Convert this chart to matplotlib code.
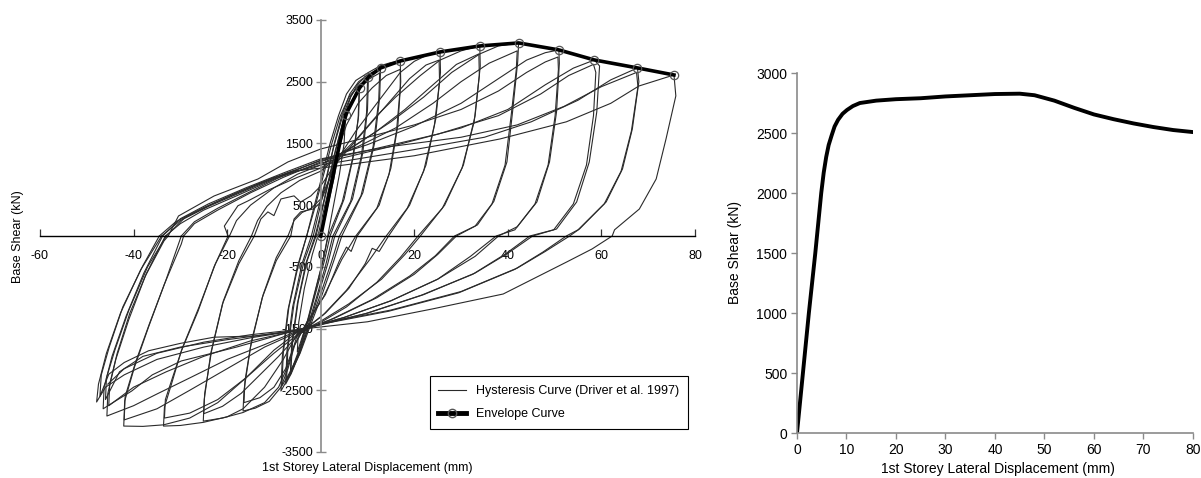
import numpy as np
import matplotlib.pyplot as plt
from matplotlib.lines import Line2D

plt.rcParams['font.family'] = ['Liberation Sans', 'DejaVu Sans']
plt.rcParams['axes.unicode_minus'] = False

# cyclic test record, one list of (displacement mm, shear kN) per cycle
loop_a = [(0, 0), (1.1, 350), (2.8, 924), (4.3, 1572), (5.3, 1961),
          (5.0, 1500), (4.0, 1000), (2.5, 400), (1.5, 0),
          (0.5, -400), (-1.0, -850), (-2.5, -1300), (-4.0, -1650), (-5.0, -1880),
          (-4.7, -1400), (-3.5, -850), (-1.8, -300), (-0.6, 0)]
loop_b = [(-0.6, 0), (0.6, 400), (2.0, 850), (3.5, 1350), (5.0, 1800), (6.5, 2150), (7.5, 2320), (8.3, 2399),
          (8.1, 1950), (7.0, 1300), (5.0, 600), (2.0, 0),
          (0.8, -400), (-1.0, -900), (-2.8, -1400), (-4.5, -1850), (-5.8, -2120), (-6.5, -2250),
          (-6.2, -1750), (-5.0, -1100), (-3.2, -450), (-1.2, 0)]
loop_b2 = [(-1.2, 0), (0.2, 420), (1.6, 880), (3.1, 1380), (4.7, 1820), (6.3, 2150), (7.4, 2290), (8.2, 2350),
           (8.0, 1900), (6.8, 1250), (4.6, 550), (1.6, 0),
           (0.4, -420), (-1.3, -920), (-3.0, -1420), (-4.7, -1860), (-5.9, -2100), (-6.4, -2200),
           (-6.0, -1700), (-4.8, -1050), (-2.9, -400), (-1.0, 0)]
loop_c = [(-1.0, 0), (0.4, 450), (1.9, 950), (3.4, 1450), (4.9, 1900), (6.4, 2250), (7.8, 2450), (9.0, 2540), (10.2, 2577),
          (10.0, 2050), (9.0, 1350), (6.8, 600), (3.0, 0),
          (1.5, -450), (-0.5, -950), (-2.5, -1450), (-4.5, -1900), (-6.3, -2230), (-7.5, -2400),
          (-7.2, -1850), (-6.0, -1150), (-4.0, -450), (-2.0, 0)]
loop_c2 = [(-2.0, 0), (-0.5, 450), (1.2, 950), (2.9, 1480), (4.6, 1920), (6.3, 2250), (7.9, 2420), (10.0, 2500),
           (9.8, 2000), (8.7, 1300), (6.4, 560), (2.6, 0),
           (1.1, -460), (-0.8, -970), (-2.8, -1470), (-4.8, -1920), (-6.4, -2200), (-7.3, -2330),
           (-7.0, -1800), (-5.7, -1100), (-3.6, -420), (-1.6, 0)]
loop_d = [(-1.6, 0), (-0.2, 450), (1.3, 950), (2.9, 1500), (4.5, 1950), (6.2, 2300), (8.1, 2500), (10.2, 2620), (12.8, 2723),
          (12.6, 2250), (11.5, 1500), (9.0, 700), (4.5, 0),
          (2.8, -400), (0.3, -950), (-2.2, -1450), (-4.4, -1900), (-6.8, -2280), (-8.5, -2512),
          (-8.2, -1950), (-7.0, -1200), (-5.0, -500), (-3.0, 0)]
loop_d2 = [(-3.0, 0), (-1.4, 420), (0.4, 930), (2.3, 1480), (4.1, 1930), (6.0, 2250), (8.4, 2460), (12.6, 2640),
           (12.4, 2200), (11.2, 1450), (8.6, 650), (4.0, 0),
           (2.3, -420), (-0.2, -980), (-2.6, -1480), (-4.7, -1930), (-6.9, -2250), (-8.3, -2430),
           (-8.0, -1900), (-6.8, -1150), (-4.8, -480), (-3.0, 0)]
loop_e1 = [(-3.0, 0), (-1.5, 450), (0.2, 950), (2.0, 1500), (3.8, 1950), (5.5, 2300), (7.5, 2520), (10.2, 2650),
           (12.8, 2760), (15.0, 2810), (17.0, 2836),
           (17.1, 2500), (16.5, 1800), (15.0, 1100), (12.5, 500), (7.8, 0),
           (6.5, -250), (5.5, -180), (4.0, -400), (1.0, -950), (-3.0, -1400), (-5.5, -1750), (-7.0, -2150),
           (-8.5, -2450), (-11.0, -2680), (-14.0, -2790), (-16.6, -2836),
           (-16.4, -2500), (-15.0, -1800), (-12.5, -1000), (-9.5, -400), (-6.4, 0)]
loop_e2 = [(-6.4, 0), (-5.7, 275), (-4.3, 390), (-1.5, 440), (0, 550), (1.8, 900), (3.5, 1350), (5.5, 1800),
           (8.0, 2150), (11.0, 2400), (14.0, 2600), (17.0, 2700),
           (17.0, 2400), (16.2, 1700), (14.6, 1000), (12.0, 450), (7.5, 0),
           (4.5, -380), (0.5, -1000), (-3.5, -1480), (-5.8, -1800), (-7.5, -2150), (-10.0, -2450),
           (-13.0, -2620), (-16.4, -2700),
           (-16.2, -2350), (-14.8, -1700), (-12.3, -950), (-9.5, -350), (-7.0, 0)]
loop_f1 = [(-7.0, 0), (-5.7, 250), (-4.0, 380), (-2.0, 450), (0, 600), (2.0, 950), (4.5, 1350), (7.5, 1700),
           (11.0, 2050), (14.5, 2400), (17.0, 2650), (20.0, 2830), (23.0, 2940), (25.5, 2982),
           (25.6, 2650), (24.6, 1900), (22.5, 1150), (19.0, 500), (14.5, 0),
           (12.5, -250), (11.0, -200), (9.5, -450), (6.0, -850), (1.0, -1250), (-5.0, -1600), (-7.0, -2100),
           (-9.0, -2450), (-12.0, -2700), (-16.6, -2860), (-21.0, -2950), (-25.1, -3000),
           (-24.9, -2650), (-23.5, -1900), (-21.0, -1100), (-17.5, -450), (-14.2, 0)]
loop_f2 = [(-14.2, 0), (-12.8, 275), (-11.3, 390), (-10.0, 330), (-8.5, 600), (-5.7, 650), (-4.3, 550),
           (-2.1, 650), (0, 810), (3.0, 1150), (7.0, 1500), (11.0, 1850), (15.0, 2200), (19.0, 2550),
           (22.5, 2770), (25.3, 2850),
           (25.4, 2500), (24.3, 1800), (22.0, 1050), (18.5, 450), (14.0, 0),
           (10.5, -380), (5.5, -880), (0.5, -1280), (-5.0, -1620), (-9.0, -1950), (-13.0, -2250),
           (-17.0, -2550), (-21.0, -2760), (-25.0, -2880),
           (-24.8, -2550), (-23.3, -1850), (-20.8, -1050), (-17.5, -400), (-14.8, 0)]
loop_g1 = [(-14.8, 0), (-13.5, 250), (-11.5, 480), (-8.5, 700), (-4.5, 900), (0, 1050), (4.0, 1300),
           (8.0, 1600), (12.0, 1950), (16.0, 2250), (21.3, 2600), (25.5, 2850), (30.0, 3000), (34.0, 3079),
           (34.1, 2750), (33.0, 1950), (30.5, 1150), (26.5, 500), (21.3, 0),
           (18.0, -300), (13.0, -700), (6.0, -1100), (0, -1380), (-5.0, -1580), (-8.0, -2000),
           (-12.0, -2450), (-16.6, -2800), (-20.0, -2930), (-25.1, -3020), (-30.0, -3070), (-33.6, -3080),
           (-33.4, -2770), (-31.9, -2400), (-29.8, -1864), (-26.2, -1215), (-22.8, -500), (-19.8, 0)]
loop_g2 = [(-19.8, 0), (-20.6, 160), (-19.6, 275), (-17.7, 490), (-15.5, 570), (-11.0, 750), (-5.0, 950),
           (0, 1100), (6.0, 1400), (12.0, 1700), (18.0, 2050), (24.0, 2450), (29.0, 2780), (33.8, 2950),
           (33.9, 2600), (32.8, 1850), (30.2, 1100), (26.0, 450), (20.8, 0),
           (17.0, -350), (12.0, -750), (5.5, -1150), (0, -1400), (-5.0, -1600), (-10.0, -1900),
           (-16.0, -2300), (-22.0, -2650), (-28.0, -2870), (-33.4, -2950),
           (-33.2, -2650), (-31.7, -2300), (-29.5, -1800), (-26.0, -1150), (-22.5, -450), (-19.5, 0)]
loop_h1 = [(-19.5, 0), (-18.0, 250), (-15.0, 500), (-10.0, 780), (-5.0, 1000), (0, 1150), (8.0, 1500),
           (15.0, 1850), (22.0, 2250), (28.0, 2650), (34.0, 2950), (38.0, 3080), (42.3, 3128),
           (42.1, 2820), (41.0, 2010), (39.8, 1200), (37.0, 560), (33.5, 180), (29.0, 0),
           (25.0, -300), (20.0, -620), (12.0, -1000), (3.0, -1330), (-5.0, -1560), (-10.0, -1850),
           (-16.0, -2300), (-22.0, -2700), (-28.0, -2950), (-33.6, -3060), (-38.0, -3085), (-42.1, -3080),
           (-41.9, -2674), (-39.8, -2123), (-36.8, -1475), (-33.4, -778), (-29.8, -130), (-29.3, 0)]
loop_h2 = [(-29.3, 0), (-27.0, 200), (-22.0, 420), (-15.0, 700), (-8.0, 950), (0, 1200), (8.0, 1450),
           (16.0, 1750), (24.0, 2150), (30.0, 2500), (36.0, 2800), (42.0, 3000),
           (41.8, 2700), (40.7, 1950), (39.4, 1150), (36.6, 520), (33.0, 160), (28.6, 0),
           (24.5, -320), (19.0, -650), (11.0, -1030), (2.0, -1360), (-5.0, -1560), (-12.0, -1800),
           (-20.0, -2150), (-28.0, -2500), (-35.0, -2800), (-42.0, -2980),
           (-41.8, -2600), (-39.6, -2050), (-36.6, -1420), (-33.2, -740), (-29.8, 0)]
loop_i1 = [(-29.8, 0), (-27.0, 230), (-22.0, 450), (-15.0, 720), (-8.0, 980), (0, 1230), (10.0, 1480),
           (20.0, 1780), (30.0, 2150), (38.0, 2550), (44.0, 2850), (48.0, 2970), (50.9, 3015),
           (51.0, 2800), (50.4, 2010), (48.9, 1200), (46.2, 551), (42.0, 150), (38.0, 0),
           (33.0, -330), (25.0, -700), (15.0, -1050), (5.0, -1320), (-5.0, -1540), (-12.0, -1760),
           (-20.0, -2000), (-28.0, -2300), (-35.0, -2560), (-40.0, -2750), (-45.7, -2917),
           (-45.5, -2550), (-43.8, -2000), (-41.0, -1350), (-37.5, -650), (-33.5, -80), (-32.6, 0)]
loop_i2 = [(-32.6, 0), (-30.4, 324), (-22.8, 648), (-13.4, 924), (-7.0, 1200), (0, 1410), (10.0, 1600),
           (20.0, 1800), (30.0, 2050), (38.0, 2350), (44.0, 2650), (48.0, 2820), (50.7, 2900),
           (50.8, 2700), (50.1, 1950), (48.6, 1150), (45.8, 520), (41.5, 100), (37.5, 0),
           (32.0, -330), (25.0, -700), (15.0, -1050), (5.0, -1320), (-5.0, -1530), (-15.0, -1700),
           (-25.0, -1950), (-33.0, -2200), (-40.0, -2450), (-45.3, -2750),
           (-45.1, -2400), (-43.5, -1900), (-40.8, -1250), (-37.2, -600), (-33.2, 0)]
loop_j1 = [(-33.2, 0), (-30.0, 200), (-25.0, 420), (-18.0, 650), (-10.0, 920), (0, 1180), (15.0, 1450),
           (30.0, 1750), (40.0, 2050), (48.0, 2450), (54.0, 2720), (58.5, 2852),
           (59.6, 2755), (59.0, 2010), (57.4, 1200), (54.7, 551), (50.4, 113), (45.3, 0),
           (40.0, -280), (33.0, -600), (22.0, -950), (10.0, -1250), (0, -1430), (-5.0, -1530),
           (-15.0, -1650), (-25.0, -1800), (-35.0, -2000), (-42.0, -2250), (-46.0, -2450), (-47.9, -2690),
           (-47.5, -2400), (-45.8, -1900), (-42.8, -1250), (-38.5, -550), (-34.0, 0)]
loop_j2 = [(-34.0, 0), (-30.0, 250), (-24.0, 480), (-16.0, 740), (-8.0, 1000), (0, 1220), (12.0, 1420),
           (25.0, 1650), (38.0, 1950), (47.0, 2300), (53.0, 2600), (58.3, 2780),
           (58.8, 2650), (58.3, 1950), (56.8, 1150), (54.0, 520), (49.8, 100), (44.7, 0),
           (39.5, -290), (32.5, -620), (21.5, -960), (9.5, -1260), (0, -1440), (-5.0, -1530),
           (-14.0, -1620), (-22.8, -1640), (-30.0, -1740), (-36.8, -1860), (-42.0, -2050), (-45.3, -2240),
           (-47.2, -2600),
           (-46.9, -2250), (-45.2, -1800), (-42.3, -1150), (-38.0, -480), (-34.5, 0)]
loop_k1 = [(-34.5, 0), (-31.0, 230), (-25.0, 460), (-18.0, 700), (-10.0, 950), (0, 1150), (20.0, 1400),
           (35.0, 1600), (45.0, 1850), (55.0, 2200), (62.0, 2530), (67.7, 2723),
           (68.0, 2500), (66.6, 1734), (64.5, 1086), (61.0, 551), (55.3, 113), (53.2, 0),
           (48.0, -250), (42.0, -520), (30.0, -900), (15.0, -1200), (0, -1420), (-5.0, -1520),
           (-18.0, -1800), (-29.8, -2025), (-36.0, -2250), (-40.4, -2512), (-44.0, -2680), (-46.5, -2800),
           (-46.3, -2450), (-44.6, -1950), (-41.6, -1300), (-37.8, -600), (-33.8, 0)]
loop_k2 = [(-33.8, 0), (-30.0, 280), (-24.0, 520), (-16.0, 780), (-8.0, 1020), (0, 1250), (15.0, 1450),
           (30.0, 1600), (42.0, 1800), (52.0, 2100), (60.0, 2420), (67.5, 2650),
           (67.8, 2420), (66.4, 1700), (64.2, 1050), (60.6, 520), (55.0, 100), (52.5, 0),
           (47.5, -260), (41.5, -540), (29.5, -920), (14.5, -1220), (0, -1430), (-5.0, -1530),
           (-20.0, -1680), (-30.0, -1800), (-38.0, -1950), (-43.0, -2200), (-46.0, -2650),
           (-45.8, -2300), (-44.0, -1850), (-41.0, -1200), (-37.0, -500), (-33.0, 0)]
loop_l = [(-33.0, 0), (-29.0, 300), (-22.0, 560), (-14.0, 820), (-6.0, 1050), (0, 1100), (20.0, 1300),
          (38.3, 1572), (52.5, 1850), (62.0, 2150), (68.0, 2430), (75.5, 2609),
          (75.9, 2270), (73.8, 1572), (71.7, 924), (68.1, 437), (62.8, 100), (62.3, 0),
          (58.0, -210), (52.6, -420), (39.0, -940), (24.0, -1180), (10.0, -1390), (-4.3, -1510),
          (-15.0, -1600), (-25.0, -1720), (-35.0, -1900), (-42.0, -2150), (-45.5, -2400)]

loops = [loop_a, loop_b, loop_b2, loop_c, loop_c2, loop_d, loop_d2, loop_e1, loop_e2,
         loop_f1, loop_f2, loop_g1, loop_g2, loop_h1, loop_h2, loop_i1, loop_i2,
         loop_j1, loop_j2, loop_k1, loop_k2, loop_l]

# envelope through the first-cycle peaks
env_disp = [0, 5.3, 8.3, 10.2, 12.8, 17.0, 25.5, 34.0, 42.3, 50.9, 58.5, 67.7, 75.5]
env_shear = [0, 1961, 2399, 2577, 2723, 2836, 2982, 3079, 3128, 3015, 2852, 2723, 2609]

# pushover curve
po_disp = [0, 1.2, 2.4, 3.7, 4.9, 5.4, 5.9, 6.4, 7.0, 7.6, 8.3, 9.2, 10.1, 11.3, 12.7,
           16, 20, 25, 30, 35, 40, 45, 48, 52, 56, 60, 64, 68, 72, 76, 80]
po_shear = [0, 500, 1000, 1500, 2000, 2170, 2300, 2400, 2480, 2555, 2610, 2660, 2692,
            2725, 2750, 2770, 2782, 2790, 2805, 2815, 2825, 2828, 2815, 2770, 2710, 2655, 2615,
            2580, 2550, 2525, 2508]

fig = plt.figure(figsize=(12.01, 4.78), dpi=100)

# ---- left: hysteresis ----
ax = fig.add_axes([0.0333, 0.0544, 0.5454, 0.9038])
for lp in loops:
    p = np.array(lp)
    ax.plot(p[:, 0], p[:, 1], color='#2a2a2a', lw=0.8, zorder=2)
ax.plot(env_disp, env_shear, color='black', lw=2.6, marker='o', ms=6,
        mfc='none', mec='#555555', mew=0.9, zorder=3)

ax.set_xlim(-60, 80)
ax.set_ylim(-3500, 3500)
ax.set_xticks(np.arange(-60, 81, 20))
ax.set_yticks(np.arange(-3500, 3501, 1000))
for s in ['top', 'right']:
    ax.spines[s].set_visible(False)
ax.spines['left'].set_position(('data', 0))
ax.spines['bottom'].set_position(('data', 0))
ax.spines['left'].set_color('#8a8a8a')
ax.spines['bottom'].set_color('black')
ax.spines['left'].set_linewidth(1.2)
ax.spines['bottom'].set_linewidth(1.0)
ax.set_axisbelow(True)
ax.tick_params(axis='x', direction='in', length=5, width=0.9, pad=10, labelsize=9, color='#333333')
ax.tick_params(axis='y', direction='inout', length=7, width=1.0, pad=2, labelsize=9, color='#8a8a8a')
ax.patch.set_visible(False)

handles = [Line2D([], [], color='#2a2a2a', lw=0.8),
           Line2D([], [], color='black', lw=3.5, marker='o', ms=6, mfc='none', mec='#555555')]
leg = ax.legend(handles, ['Hysteresis Curve (Driver et al. 1997)', 'Envelope Curve'],
                loc='lower right', bbox_to_anchor=(0.989, 0.053), fontsize=9,
                fancybox=False, framealpha=1, edgecolor='black', handlelength=2.2,
                borderpad=0.7, labelspacing=0.9, borderaxespad=0)
leg.get_frame().set_linewidth(0.8)

fig.text(18 / 1201, 1 - 237 / 478, 'Base Shear (kN)', rotation=90, ha='center', va='center', fontsize=9)
fig.text(367 / 1201, 1 - 468 / 478, '1st Storey Lateral Displacement (mm)', ha='center', va='center', fontsize=9)

# ---- right: pushover ----
ax2 = fig.add_axes([0.6636, 0.0941, 0.3297, 0.7531])
ax2.plot(po_disp, po_shear, color='black', lw=2.8, solid_joinstyle='round')
ax2.set_xlim(0, 80)
ax2.set_ylim(0, 3000)
ax2.set_xticks(np.arange(0, 81, 10))
ax2.set_yticks(np.arange(0, 3001, 500))
for s in ['top', 'right']:
    ax2.spines[s].set_visible(False)
for s in ['left', 'bottom']:
    ax2.spines[s].set_color('#8a8a8a')
    ax2.spines[s].set_linewidth(1.2)
ax2.tick_params(direction='out', length=4, width=1.0, color='#8a8a8a', labelsize=10, pad=3)

fig.text(735 / 1201, 1 - 253 / 478, 'Base Shear (kN)', rotation=90, ha='center', va='center', fontsize=10)
fig.text(998 / 1201, 1 - 469 / 478, '1st Storey Lateral Displacement (mm)', ha='center', va='center', fontsize=10)

fig.savefig('out.png', dpi=100)
